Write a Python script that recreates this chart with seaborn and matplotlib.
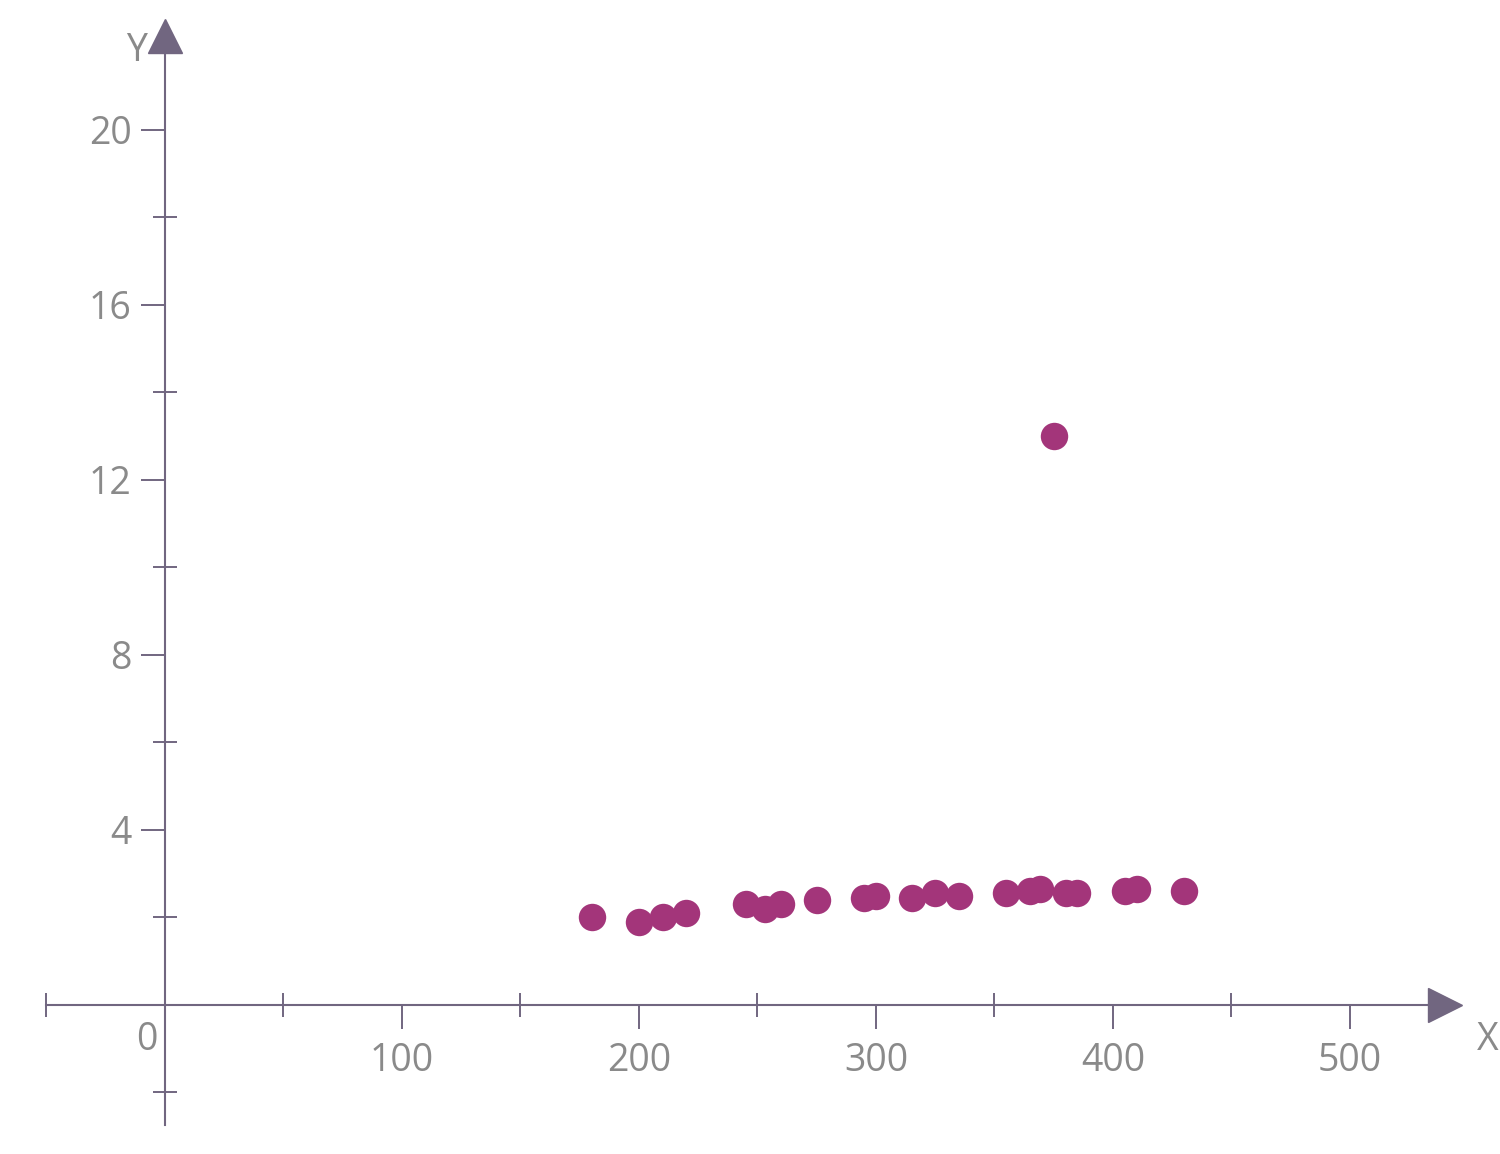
import matplotlib
matplotlib.use("Agg")
import matplotlib.pyplot as plt
import seaborn as sns
import pandas as pd

# dados
x_vals = [180, 200, 210, 220, 245, 253, 260, 275, 295, 300, 315, 325, 335,
          355, 365, 369, 375, 380, 385, 405, 410, 430]
y_vals = [2.0, 1.9, 2.0, 2.1, 2.3, 2.2, 2.3, 2.4, 2.45, 2.5, 2.45, 2.55, 2.5,
          2.55, 2.6, 2.65, 13.0, 2.55, 2.55, 2.6, 2.65, 2.6]
x_ticks = [100, 200, 300, 400, 500]
x_minor = [-50, 50, 150, 250, 350, 450]
y_ticks = [4, 8, 12, 16, 20]
y_minor = [-2, 2, 6, 10, 14, 18]

df = pd.DataFrame({"x": x_vals, "y": y_vals})

sns.set_theme(style="white")
plt.rcParams["font.family"] = ["Open Sans", "DejaVu Sans"]

axis_color = "#716680"
text_color = "#8a8a8a"
dot_color = "#A3357A"

fig = plt.figure(figsize=(15, 11.54), dpi=100)
ax = fig.add_axes([0, 0, 1, 1])
ax.set_xlim(-69.6, 563.3)
ax.set_ylim(-3.406, 22.97)

sns.scatterplot(data=df, x="x", y="y", ax=ax, color=dot_color, s=390,
                linewidth=0, zorder=5)

# eixos cruzando na origem
for side in ["top", "right"]:
    ax.spines[side].set_visible(False)
ax.spines["left"].set_position(("data", 0))
ax.spines["bottom"].set_position(("data", 0))
ax.spines["left"].set_bounds(-2.74, 21.8)
ax.spines["bottom"].set_bounds(-50, 535)
for side in ["left", "bottom"]:
    ax.spines[side].set_color(axis_color)
    ax.spines[side].set_linewidth(1.5)

# setas
ax.plot([540.1], [0], marker=">", ms=25, color=axis_color, clip_on=False, zorder=6)
ax.plot([0], [22.15], marker="^", ms=25, color=axis_color, clip_on=False, zorder=6)

ax.set_xticks(x_ticks)
ax.set_xticks(x_minor, minor=True)
ax.set_yticks(y_ticks)
ax.set_yticks(y_minor, minor=True)
ax.set_xticklabels([str(v) for v in x_ticks])
ax.set_yticklabels([str(v) for v in y_ticks])

ax.tick_params(axis="both", which="major", direction="out", length=17,
               width=1.4, color=axis_color, labelcolor=text_color,
               labelsize=27, bottom=True, left=True)
ax.tick_params(axis="x", which="major", pad=10)
ax.tick_params(axis="y", which="major", pad=7)
ax.tick_params(axis="both", which="minor", direction="inout", length=17,
               width=1.4, color=axis_color, bottom=True, left=True)

ax.set_xlabel("")
ax.set_ylabel("")
ax.grid(False)

ax.text(-7.6, -0.8, "0", color=text_color, fontsize=27, ha="center", va="center")
ax.text(558, -0.8, "X", color=text_color, fontsize=27, ha="center", va="center")
ax.text(-12, 21.8, "Y", color=text_color, fontsize=27, ha="center", va="center")

plt.savefig("out.png", dpi=100)
plt.close()
